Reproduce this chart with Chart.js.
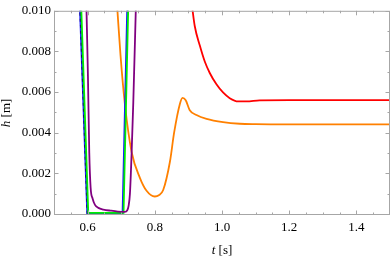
<!DOCTYPE html>
<html>
<head>
<meta charset="utf-8">
<script src="https://cdn.jsdelivr.net/npm/chart.js@4/dist/chart.umd.min.js"></script>
<style>
  html, body { margin: 0; padding: 0; background: #ffffff; }
  #wrap { width: 390px; height: 259px; position: relative; }
</style>
</head>
<body>
<div id="wrap"><canvas id="c"></canvas></div>
<script>
// ---- data (t in s, h in m) ----
const blueT   = [0.577, 0.599, 0.704, 0.718];
const blueH   = [0.0102, 0.0000, 0.0000, 0.0102];

const dashT   = [0.577, 0.599];
const dashH   = [0.0102, 0.0000];

const greenT  = [0.581, 0.602, 0.707, 0.721];
const greenH  = [0.0102, 0.00005, 0.00005, 0.0102];

const purpleT = [0.5965, 0.601, 0.605, 0.609, 0.615, 0.622, 0.632, 0.647, 0.670, 0.690, 0.711, 0.718, 0.722, 0.726, 0.731, 0.736, 0.7437];
const purpleH = [0.0102, 0.0068, 0.0030, 0.0013, 0.00075, 0.00045, 0.00030, 0.00022, 0.00016, 0.00012, 0.00010, 0.00018, 0.00040, 0.0010, 0.0030, 0.0055, 0.0102];

const orangeT = [0.688, 0.698, 0.711, 0.731, 0.7556, 0.7755, 0.800, 0.812, 0.825, 0.845, 0.8575, 0.8744, 0.8825, 0.892, 0.904, 0.924, 0.954, 1.003, 1.053, 1.100, 1.200, 1.300, 1.500];
const orangeH = [0.0102, 0.0078, 0.0054, 0.00305, 0.00178, 0.00114, 0.00086, 0.00092, 0.00118, 0.00257, 0.0040, 0.0054, 0.00571, 0.0056, 0.00511, 0.00487, 0.00468, 0.00452, 0.00444, 0.00442, 0.00441, 0.00441, 0.00441];

const redT    = [0.911, 0.919, 0.934, 0.949, 0.9636, 0.9835, 1.003, 1.023, 1.048, 1.073, 1.112, 1.200, 1.300, 1.500];
const redH    = [0.0102, 0.00924, 0.00829, 0.00749, 0.00694, 0.00638, 0.00598, 0.00570, 0.00554, 0.00554, 0.00559, 0.00560, 0.00560, 0.00560];

// ---- axes ----
const xMajorTicks = [0.6, 0.8, 1.0, 1.2, 1.4];
const xMinorTicks = [0.5, 0.55, 0.65, 0.7, 0.75, 0.85, 0.9, 0.95, 1.05, 1.1, 1.15, 1.25, 1.3, 1.35, 1.45, 1.5];
const yMajorTicks = [0.000, 0.002, 0.004, 0.006, 0.008, 0.010];
const yMinorTicks = [0.001, 0.003, 0.005, 0.007, 0.009];
const xLabel = ['t', ' [s]'];
const yLabel = ['h', ' [m]'];

const pts = (xs, ys) => xs.map((x, i) => ({ x: x, y: ys[i] }));
const FONT = "'Liberation Serif', 'Times New Roman', Times, serif";

const framePlugin = {
  id: 'frame',
  afterDatasetsDraw(chart) {
    const { ctx, chartArea: a, scales: { x, y } } = chart;
    ctx.save();
    ctx.strokeStyle = '#a6a6a6';
    ctx.lineWidth = 1;
    ctx.strokeRect(a.left + 0.5, a.top + 0.5, a.right - a.left - 1, a.bottom - a.top - 1);
    ctx.beginPath();
    const tick = (vals, len, horiz) => {
      vals.forEach(v => {
        if (horiz) {
          const px = Math.round(x.getPixelForValue(v)) + 0.5;
          ctx.moveTo(px, a.bottom); ctx.lineTo(px, a.bottom - len);
          ctx.moveTo(px, a.top); ctx.lineTo(px, a.top + len);
        } else {
          const py = Math.round(y.getPixelForValue(v)) + 0.5;
          ctx.moveTo(a.left, py); ctx.lineTo(a.left + len, py);
          ctx.moveTo(a.right, py); ctx.lineTo(a.right - len, py);
        }
      });
    };
    tick(xMajorTicks, 4.5, true);
    tick(xMinorTicks, 2.5, true);
    tick(yMajorTicks, 4.5, false);
    tick(yMinorTicks, 2.5, false);
    ctx.stroke();
    ctx.restore();
  },
  afterDraw(chart) {
    const { ctx, chartArea: a } = chart;
    ctx.save();
    ctx.fillStyle = '#000';
    ctx.textBaseline = 'middle';
    const drawMixed = (parts, cx, cy) => {
      ctx.font = 'italic 13px ' + FONT;
      const w0 = ctx.measureText(parts[0]).width;
      ctx.font = '13px ' + FONT;
      const w1 = ctx.measureText(parts[1]).width;
      let sx = cx - (w0 + w1) / 2;
      ctx.textAlign = 'left';
      ctx.font = 'italic 13px ' + FONT;
      ctx.fillText(parts[0], sx, cy);
      ctx.font = '13px ' + FONT;
      ctx.fillText(parts[1], sx + w0, cy);
    };
    drawMixed(xLabel, (a.left + a.right) / 2, 251);
    ctx.translate(7, (a.top + a.bottom) / 2);
    ctx.rotate(-Math.PI / 2);
    drawMixed(yLabel, 0, 0);
    ctx.restore();
  }
};

const lineDs = (label, data, color, tension, width, dash) => ({
  label: label,
  data: data,
  borderColor: color,
  backgroundColor: color,
  borderWidth: width || 1.8,
  borderDash: dash || [],
  pointRadius: 0,
  fill: false,
  tension: tension,
  cubicInterpolationMode: tension ? 'monotone' : 'default'
});

new Chart(document.getElementById('c'), {
  type: 'line',
  data: {
    datasets: [
      lineDs('red', pts(redT, redH), '#ff0000', 0.4),
      lineDs('orange', pts(orangeT, orangeH), '#ff8000', 0.4),
      lineDs('blue', pts(blueT, blueH), '#1a1aff', 0),
      lineDs('dashed', pts(dashT, dashH), '#101060', 0, 1.2, [3, 3]),
      lineDs('green', pts(greenT, greenH), '#00ee00', 0),
      lineDs('purple', pts(purpleT, purpleH), '#800080', 0.4)
    ].reverse()
  },
  options: {
    responsive: true,
    maintainAspectRatio: false,
    animation: false,
    devicePixelRatio: 1,
    layout: { padding: { top: 4, right: 0, left: 0, bottom: 0 } },
    plugins: { legend: { display: false }, tooltip: { enabled: false } },
    scales: {
      x: {
        type: 'linear', min: 0.5, max: 1.5,
        grid: { display: false, drawTicks: false },
        border: { display: false },
        afterFit(s) { s.height = 44; },
        afterBuildTicks(s) { s.ticks = xMajorTicks.map(v => ({ value: v })); },
        ticks: {
          padding: 5, color: '#000', maxRotation: 0, autoSkip: false,
          font: { family: FONT, size: 13 },
          callback: v => v.toFixed(1)
        }
      },
      y: {
        type: 'linear', min: -0.00005, max: 0.010,
        grid: { display: false, drawTicks: false },
        border: { display: false },
        afterFit(s) { s.width = 54; },
        afterBuildTicks(s) { s.ticks = yMajorTicks.map(v => ({ value: v })); },
        ticks: {
          padding: 3, color: '#000', autoSkip: false,
          font: { family: FONT, size: 13 },
          callback: v => v.toFixed(3)
        }
      }
    }
  },
  plugins: [framePlugin]
});
</script>
</body>
</html>
